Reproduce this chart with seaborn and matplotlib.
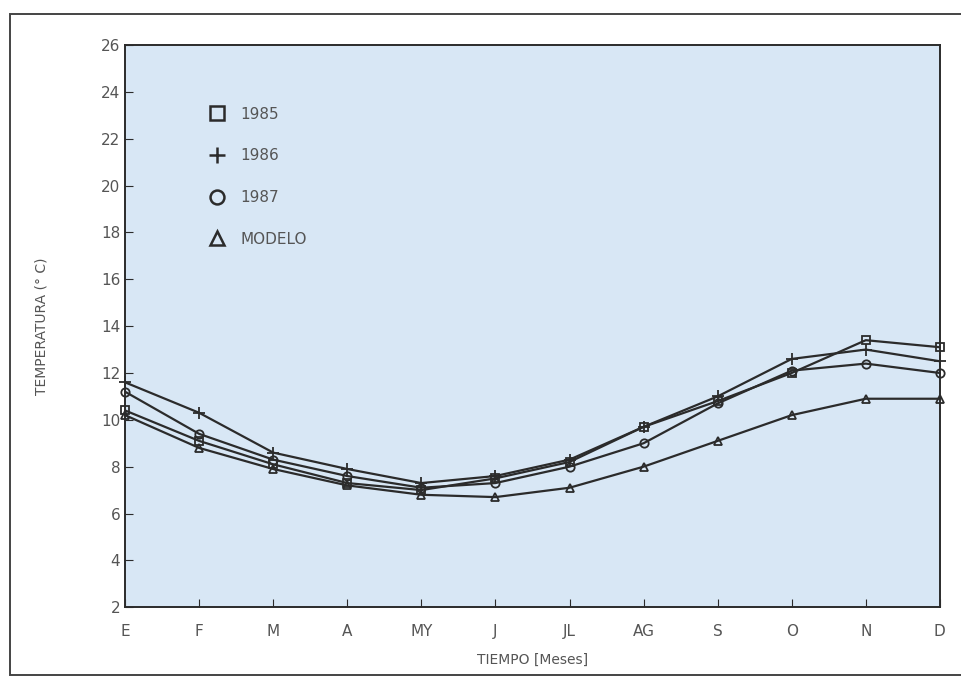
import seaborn as sns
import matplotlib.pyplot as plt
import pandas as pd
from matplotlib.patches import Rectangle

meses = ['E', 'F', 'M', 'A', 'MY', 'J', 'JL', 'AG', 'S', 'O', 'N', 'D']
t_1985 = [10.4, 9.1, 8.1, 7.3, 7.0, 7.5, 8.2, 9.7, 10.8, 12.0, 13.4, 13.1]
t_1986 = [11.6, 10.3, 8.6, 7.9, 7.3, 7.6, 8.3, 9.7, 11.0, 12.6, 13.0, 12.5]
t_1987 = [11.2, 9.4, 8.3, 7.6, 7.1, 7.3, 8.0, 9.0, 10.7, 12.1, 12.4, 12.0]
t_modelo = [10.2, 8.8, 7.9, 7.2, 6.8, 6.7, 7.1, 8.0, 9.1, 10.2, 10.9, 10.9]
series = ['1985', '1986', '1987', 'MODELO']

df = pd.DataFrame({
    'Mes': list(range(len(meses))) * 4,
    'Temp': t_1985 + t_1986 + t_1987 + t_modelo,
    'Serie': [s for s in series for _ in meses],
})

sns.set_style('ticks')
plt.rcParams['font.family'] = ['DejaVu Sans']
gris = '#555555'
negro = '#2b2b2b'

fig = plt.figure(figsize=(9.62, 6.83), dpi=100)
ax = fig.add_axes([0.130, 0.111, 0.847, 0.823])
ax.set_facecolor('#d8e7f5')

sns.lineplot(data=df, x='Mes', y='Temp', hue='Serie', style='Serie',
             palette=[negro] * 4, dashes=False,
             markers={'1985': 's', '1986': 'P', '1987': 'o', 'MODELO': '^'},
             markersize=6, markerfacecolor='none', markeredgecolor=negro,
             markeredgewidth=1.3, linewidth=1.6, clip_on=False, ax=ax)

# 1986 con cruz fina
ax.lines[1].set_marker('+')
ax.lines[1].set_markersize(8)

ax.set_xlim(0, 11)
ax.set_ylim(2, 26)
ax.set_xticks(range(len(meses)))
ax.set_xticklabels(meses)
ax.set_yticks(range(2, 27, 2))
ax.tick_params(direction='in', length=6, colors=negro, labelcolor=gris,
               labelsize=11)
ax.tick_params(axis='x', pad=12)
for s in ax.spines.values():
    s.set_color(negro)
    s.set_linewidth(1.4)

ax.set_xlabel('TIEMPO [Meses]', color=gris, fontsize=10, labelpad=10)
ax.set_ylabel('TEMPERATURA (° C)', color=gris, fontsize=10, labelpad=38)

h, l = ax.get_legend_handles_labels()
leg = ax.legend(h, l, loc='upper left', bbox_to_anchor=(0.085, 0.915),
                frameon=False, labelspacing=1.75, handlelength=1.2,
                handletextpad=0.9, fontsize=11)
for t in leg.get_texts():
    t.set_color(gris)
for lh in leg.get_lines():
    lh.set_linestyle('none')
    lh.set_markeredgecolor(negro)
    lh.set_markerfacecolor('none')
    lh.set_markersize(10)
    lh.set_markeredgewidth(1.8)
leg.get_lines()[1].set_marker('+')
leg.get_lines()[1].set_markersize(12)

# marco exterior
fig.patches.append(Rectangle((0.010, 0.012), 0.99, 0.968, transform=fig.transFigure,
                             fill=False, edgecolor='#444444', linewidth=1.4))

fig.savefig('out.png', dpi=100, facecolor='white')
